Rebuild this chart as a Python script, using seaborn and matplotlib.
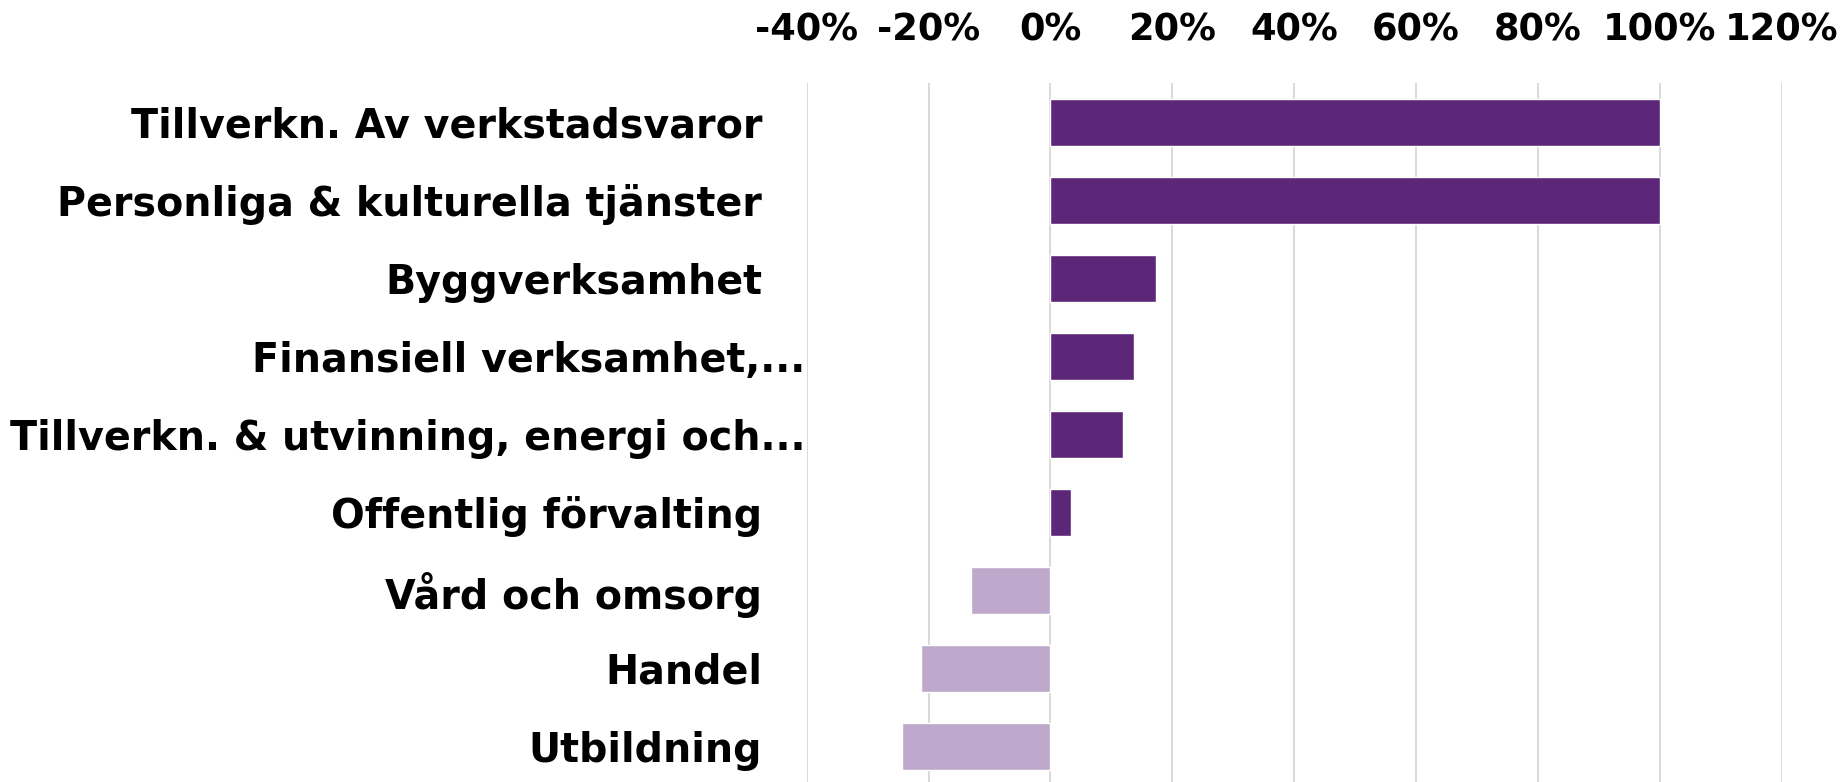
import matplotlib
matplotlib.use("Agg")
import matplotlib.pyplot as plt
import matplotlib.transforms as mtransforms
from matplotlib.ticker import FixedLocator, FuncFormatter
import seaborn as sns

# Data
categories = [
    "Tillverkn. Av verkstadsvaror",
    "Personliga & kulturella tjänster",
    "Byggverksamhet",
    "Finansiell verksamhet,...",
    "Tillverkn. & utvinning, energi och...",
    "Offentlig förvalting",
    "Vård och omsorg",
    "Handel",
    "Utbildning",
]
values = [100.0, 100.0, 17.3, 13.7, 11.9, 3.4, -13.0, -21.2, -24.3]
x_ticks = [-40, -20, 0, 20, 40, 60, 80, 100, 120]

dark = "#5C2779"
light = "#BEA8CC"
colors = [dark if v >= 0 else light for v in values]

sns.set_theme(style="white")
plt.rcParams["font.family"] = ["DejaVu Sans"]

fig = plt.figure(figsize=(18.45, 7.82), dpi=100)
ax = fig.add_axes([0.4372, -0.0042, 0.5285, 0.8977])

sns.barplot(x=values, y=categories, hue=categories, palette=colors,
            legend=False, width=0.6, saturation=1, ax=ax)

ax.set_xlim(-40, 120)
ax.xaxis.set_major_locator(FixedLocator(x_ticks))
ax.xaxis.set_major_formatter(FuncFormatter(lambda v, p: f"{v:.0f}%"))
ax.xaxis.tick_top()
ax.grid(axis="x", color="#D9D9D9", linewidth=1.4)
ax.set_axisbelow(True)
for s in ax.spines.values():
    s.set_visible(False)

ax.tick_params(axis="x", length=0, pad=25, labelsize=26.5)
ax.tick_params(axis="y", length=0, pad=1, labelsize=28.5)
for lab in ax.get_xticklabels() + ax.get_yticklabels():
    lab.set_fontweight("bold")
    lab.set_color("black")

# Excel leaves extra room after the untruncated labels
shift = mtransforms.ScaledTranslation(-43 / 100, 0, fig.dpi_scale_trans)
for lab in ax.get_yticklabels():
    if not lab.get_text().endswith("..."):
        lab.set_transform(lab.get_transform() + shift)

ax.set_xlabel("")
ax.set_ylabel("")

fig.savefig("out.png", dpi=100)
